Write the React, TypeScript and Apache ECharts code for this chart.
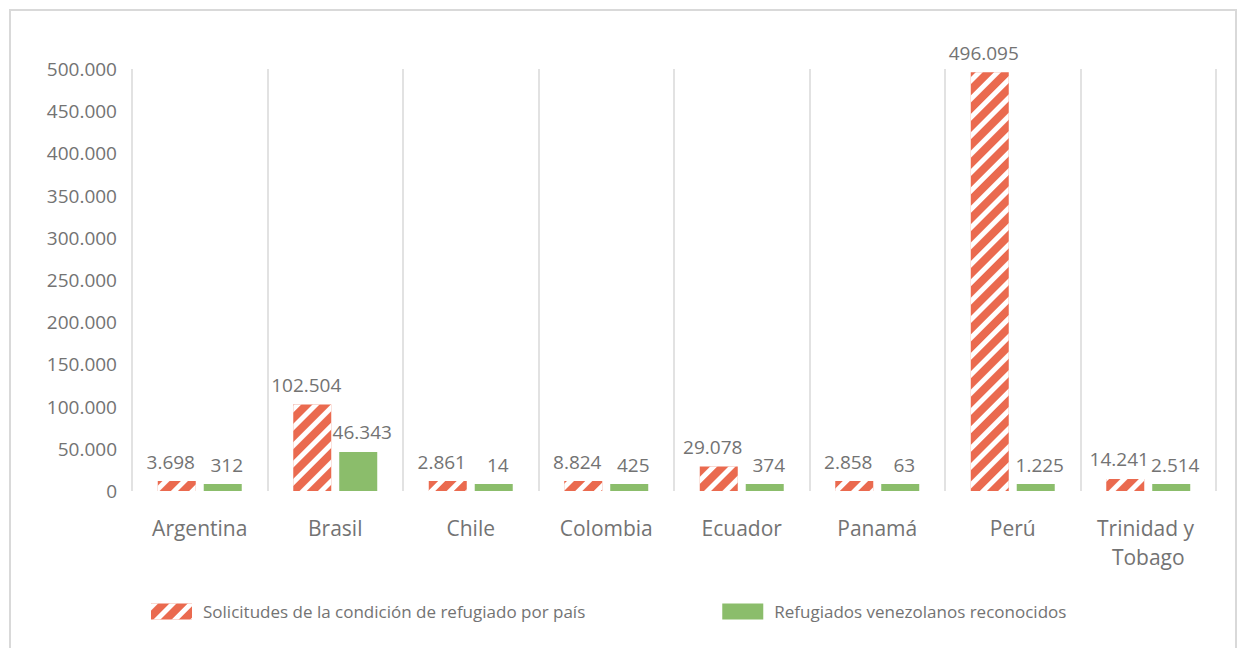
import React, { useEffect, useRef } from "react";
import * as echarts from "echarts";

const categories = ["Argentina", "Brasil", "Chile", "Colombia", "Ecuador", "Panamá", "Perú", "Trinidad y Tobago"];
const solicitudes = [3698, 102504, 2861, 8824, 29078, 2858, 496095, 14241];
const reconocidos = [312, 46343, 14, 425, 374, 63, 1225, 2514];
const seriesNames = ["Solicitudes de la condición de refugiado por país", "Refugiados venezolanos reconocidos"];
const yMax = 500000;
const yInterval = 50000;

const fmt = (v: number) => String(Math.round(v)).replace(/\B(?=(\d{3})+(?!\d))/g, ".");

const FONT = "'Open Sans', sans-serif";
const TXT = "#737373";

export default function App() {
  const ref = useRef<HTMLDivElement>(null);
  useEffect(() => {
    if (!ref.current) return;
    const chart = echarts.init(ref.current, undefined, { renderer: "svg" });
    chart.setOption({
      animation: false,
      backgroundColor: "#ffffff",
      textStyle: { fontFamily: FONT },
      graphic: [
        {
          type: "rect",
          shape: { x: 10, y: 10, width: 1226, height: 680 },
          style: { fill: "none", stroke: "#d9d9d9", lineWidth: 2 },
          silent: true,
        },
      ],
      grid: { left: 132, right: 30, top: 69, bottom: 157 },
      legend: {
        left: 146,
        top: 598,
        icon: "rect",
        itemWidth: 41,
        itemHeight: 16,
        itemGap: 137,
        textStyle: { fontSize: 17, color: TXT, fontFamily: FONT, padding: [0, 0, 0, 6] },
        data: seriesNames,
      },
      xAxis: {
        type: "category",
        data: categories,
        axisLine: { show: false },
        axisTick: { show: false },
        splitLine: { show: true, lineStyle: { color: "#d9d9d9", width: 1.5 } },
        axisLabel: {
          color: TXT,
          fontSize: 21,
          fontFamily: FONT,
          margin: 22,
          lineHeight: 29,
          width: 125,
          overflow: "break",
          interval: 0,
        },
      },
      yAxis: {
        type: "value",
        min: 0,
        max: yMax,
        interval: yInterval,
        axisLine: { show: false },
        axisTick: { show: false },
        splitLine: { show: false },
        axisLabel: {
          color: TXT,
          fontSize: 19,
          fontFamily: FONT,
          margin: 15,
          formatter: (v: number) => fmt(v),
        },
      },
      series: [
        {
          name: seriesNames[0],
          type: "bar",
          data: solicitudes,
          barWidth: 38,
          barGap: "21%",
          barMinHeight: 10,
          itemStyle: {
            color: "#ea6a4f",
            decal: {
              symbol: "rect",
              symbolSize: 1,
              dashArrayX: [1, 0],
              dashArrayY: [5, 8],
              rotation: -Math.PI / 4,
              color: "#ffffff",
            },
          },
          label: {
            show: true,
            position: "top",
            distance: 10,
            offset: [-6, 0],
            color: TXT,
            fontSize: 19,
            fontFamily: FONT,
            formatter: (p: any) => fmt(p.value),
          },
        },
        {
          name: seriesNames[1],
          type: "bar",
          data: reconocidos,
          barWidth: 38,
          barGap: "21%",
          barMinHeight: 7,
          itemStyle: { color: "#8bbd6b" },
          label: {
            show: true,
            position: "top",
            distance: 10,
            offset: [4, 0],
            color: TXT,
            fontSize: 19,
            fontFamily: FONT,
            formatter: (p: any) => fmt(p.value),
          },
        },
      ],
    });
    return () => chart.dispose();
  }, []);
  return <div ref={ref} style={{ position: "fixed", left: 0, top: 0, width: 1246, height: 648 }} />;
}
